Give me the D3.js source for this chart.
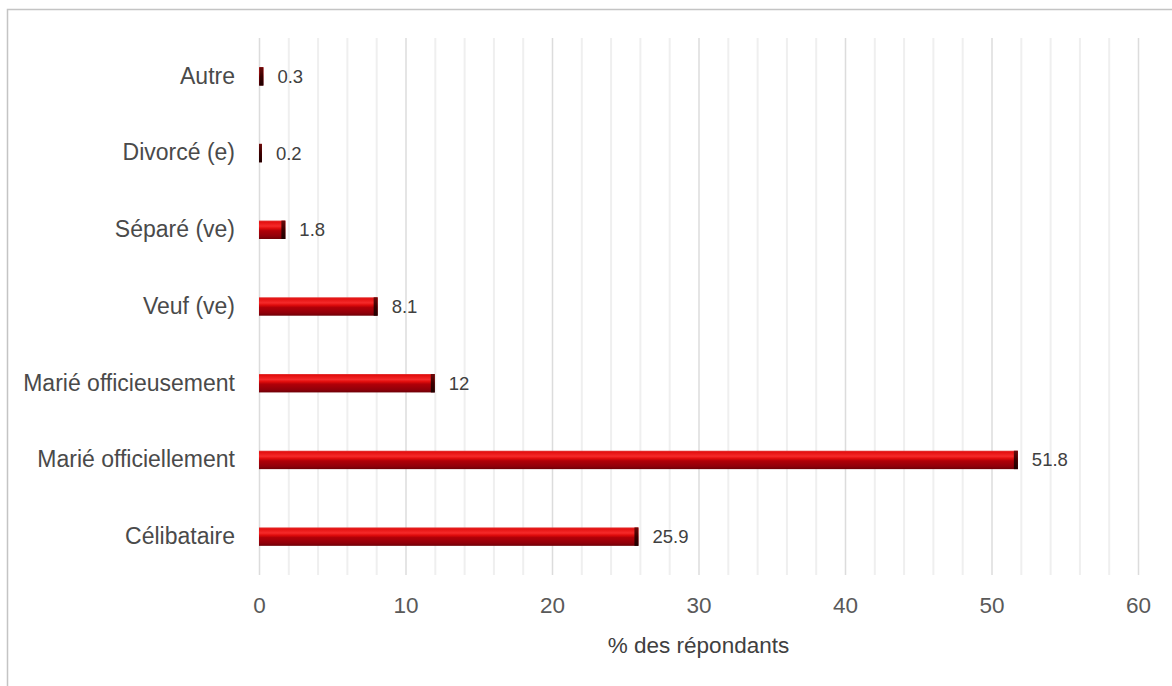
<!DOCTYPE html>
<html>
<head>
<meta charset="utf-8">
<script src="https://cdn.jsdelivr.net/npm/d3@7"></script>
<style>
  html, body { margin: 0; padding: 0; background: #ffffff; }
  svg { display: block; font-family: "Liberation Sans", Arial, sans-serif; }
</style>
</head>
<body>
<svg id="chart" width="1172" height="686"></svg>
<script>
// Situation matrimoniale des répondants (%)
const categories = [
  "Autre",
  "Divorcé (e)",
  "Séparé (ve)",
  "Veuf (ve)",
  "Marié officieusement",
  "Marié officiellement",
  "Célibataire"
];
const values = [0.3, 0.2, 1.8, 8.1, 12, 51.8, 25.9];
const valueLabels = ["0.3", "0.2", "1.8", "8.1", "12", "51.8", "25.9"];
const majorTicks = [0, 10, 20, 30, 40, 50, 60];
const minorTicks = d3.range(0, 61, 2);
const axisTitle = "% des répondants";

const rows = categories.map((c, i) => ({ cat: c, value: values[i], label: valueLabels[i] }));

const svg = d3.select("#chart");
const W = 1172, H = 686;
const plot = { left: 259, right: 1138, top: 38, bottom: 575 };

const x = d3.scaleLinear().domain([0, 60]).range([plot.left, plot.right]);
const y = d3.scaleBand()
  .domain(categories)
  .range([plot.top, plot.bottom])
  .paddingInner(0.76)
  .paddingOuter(0.76 / 2);

// Outer frame
svg.append("rect")
  .attr("x", 7.5).attr("y", 9.5)
  .attr("width", W + 20).attr("height", H + 20)
  .attr("fill", "#ffffff")
  .attr("stroke", "#c4c4c4")
  .attr("stroke-width", 1.5);

// Bar shading
const defs = svg.append("defs");
const grad = defs.append("linearGradient")
  .attr("id", "barFill").attr("x1", 0).attr("y1", 0).attr("x2", 0).attr("y2", 1);
[
  [0, "#e23a3a"], [0.08, "#e41010"], [0.3, "#f52a2a"], [0.42, "#e00c0c"],
  [0.55, "#b00008"], [0.85, "#90000a"], [1, "#6e0006"]
].forEach(([o, c]) => grad.append("stop").attr("offset", o).attr("stop-color", c));

const capGrad = defs.append("linearGradient")
  .attr("id", "capFill").attr("x1", 0).attr("y1", 0).attr("x2", 0).attr("y2", 1);
[[0, "#6a0a0a"], [0.5, "#3a0000"], [1, "#1e0000"]]
  .forEach(([o, c]) => capGrad.append("stop").attr("offset", o).attr("stop-color", c));

// Gridlines
const grid = svg.append("g");
grid.selectAll("line.minor")
  .data(minorTicks.filter(t => t % 10 !== 0))
  .join("line")
  .attr("class", "minor")
  .attr("x1", d => x(d) + 0.5).attr("x2", d => x(d) + 0.5)
  .attr("y1", plot.top).attr("y2", plot.bottom)
  .attr("stroke", "#efefef").attr("stroke-width", 2);
grid.selectAll("line.major")
  .data(majorTicks)
  .join("line")
  .attr("class", "major")
  .attr("x1", d => x(d) + 0.5).attr("x2", d => x(d) + 0.5)
  .attr("y1", plot.top).attr("y2", plot.bottom)
  .attr("stroke", "#dcdcdc").attr("stroke-width", 1.5);

// Bars
const bars = svg.append("g").selectAll("g.bar").data(rows).join("g").attr("class", "bar");
bars.append("rect")
  .attr("x", x(0))
  .attr("y", d => y(d.cat))
  .attr("width", d => x(d.value) - x(0))
  .attr("height", y.bandwidth())
  .attr("fill", "url(#barFill)");
bars.append("rect")
  .attr("x", d => Math.max(x(0), x(d.value) - 4))
  .attr("y", d => y(d.cat))
  .attr("width", d => Math.min(4, x(d.value) - x(0)))
  .attr("height", y.bandwidth())
  .attr("fill", "url(#capFill)");

// Value labels
svg.append("g").selectAll("text").data(rows).join("text")
  .attr("x", d => x(d.value) + 14)
  .attr("y", d => y(d.cat) + y.bandwidth() / 2)
  .attr("dy", "0.35em")
  .attr("font-size", 18.5)
  .attr("fill", "#404040")
  .text(d => d.label);

// Category axis
const yAxis = svg.append("g")
  .attr("transform", `translate(${plot.left - 24},0)`)
  .call(d3.axisLeft(y).tickSize(0).tickPadding(0));
yAxis.select(".domain").remove();
yAxis.selectAll("text")
  .attr("font-size", 23)
  .attr("font-family", "Liberation Sans, Arial, sans-serif")
  .attr("fill", "#4a4a4a");

// Value axis
const xAxis = svg.append("g")
  .attr("transform", `translate(0,${plot.bottom})`)
  .call(d3.axisBottom(x).tickValues(majorTicks).tickSize(0).tickPadding(22));
xAxis.select(".domain").remove();
xAxis.selectAll("text")
  .attr("font-size", 22.5)
  .attr("font-family", "Liberation Sans, Arial, sans-serif")
  .attr("fill", "#595959");

// Axis title
svg.append("text")
  .attr("x", (plot.left + plot.right) / 2)
  .attr("y", 653)
  .attr("text-anchor", "middle")
  .attr("font-size", 22.5)
  .attr("fill", "#404040")
  .text(axisTitle);
</script>
</body>
</html>
